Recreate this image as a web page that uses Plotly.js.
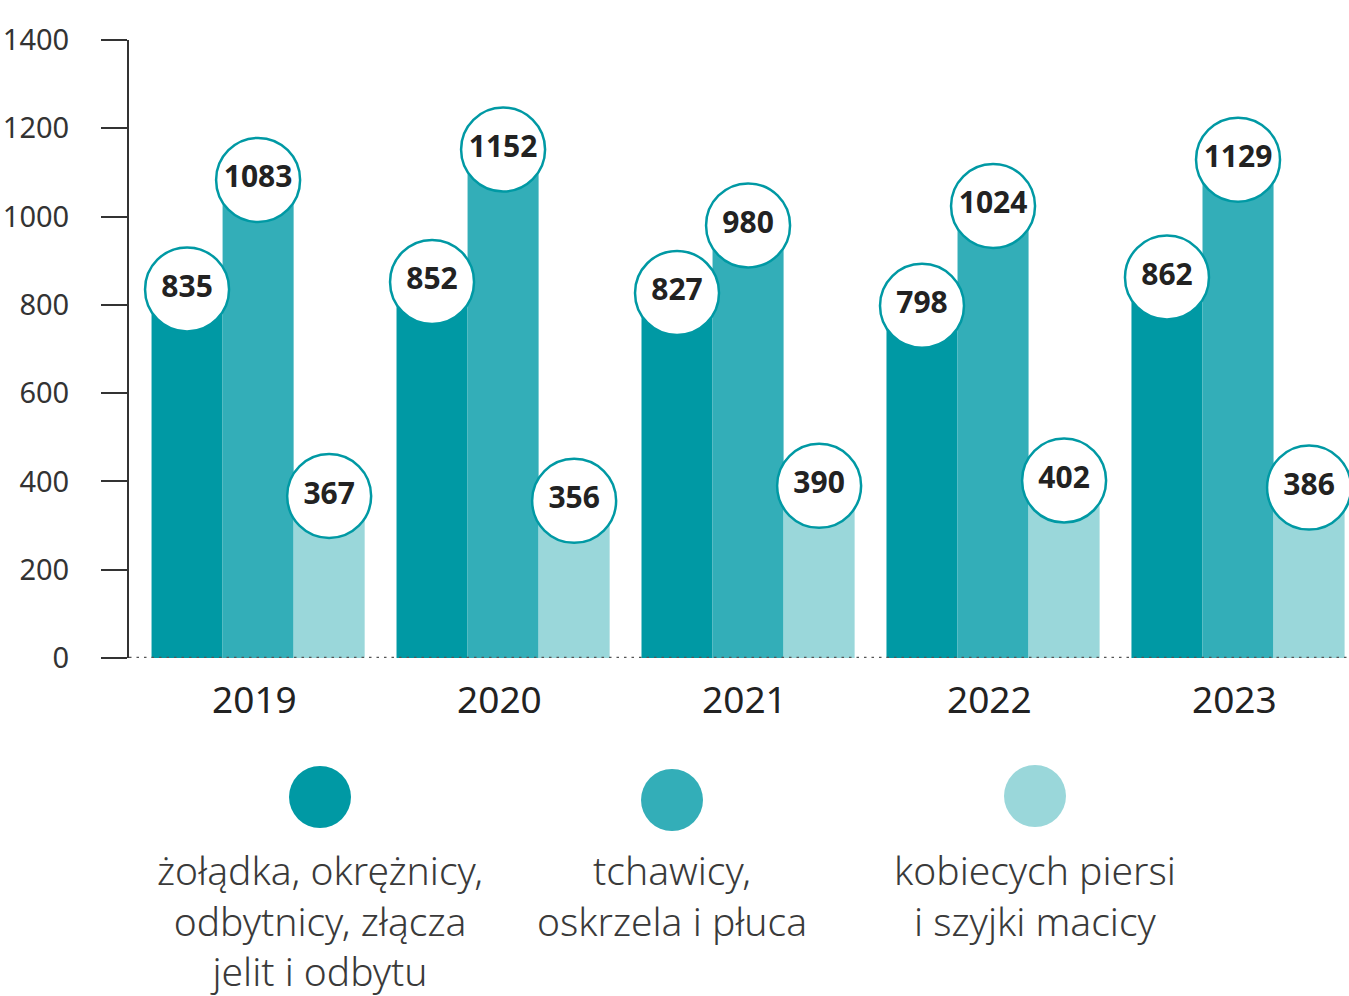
<!DOCTYPE html>
<html>
<head>
<meta charset="utf-8">
<script src="https://cdn.plot.ly/plotly-3.0.1.min.js"></script>
<style>html,body{margin:0;padding:0;background:#fff;}#chart{width:1349px;height:996px;}</style>
</head>
<body>
<div id="chart"></div>
<script>
const years = ['2019', '2020', '2021', '2022', '2023'];
const zoladka = [835, 852, 827, 798, 862];
const tchawicy = [1083, 1152, 980, 1024, 1129];
const piersi = [367, 356, 390, 402, 386];
const seriesNames = ['żołądka, okrężnicy,<br>odbytnicy, złącza<br>jelit i odbytu', 'tchawicy,<br>oskrzela i płuca', 'kobiecych piersi<br>i szyjki macicy'];
const colors = ['#0099A4', '#33AEB8', '#9AD7DA'];
const yTicks = [0, 200, 400, 600, 800, 1000, 1200, 1400];

const series = [zoladka, tchawicy, piersi];
const xIdx = years.map((_, i) => i);
const bargap = 0.13;
const bw = (1 - bargap) / series.length;

const traces = [];
series.forEach((vals, k) => {
  traces.push({
    type: 'bar', x: xIdx, y: vals, name: seriesNames[k].replace(/<br>/g, ' '),
    marker: {color: colors[k], line: {width: 0}},
    hoverinfo: 'skip', showlegend: false
  });
});
series.forEach((vals, k) => {
  traces.push({
    type: 'scatter', mode: 'markers+text',
    x: xIdx.map(i => i + (k - 1) * bw), y: vals,
    text: vals.map(String), textposition: 'middle center',
    textfont: {family: 'Noto Sans, sans-serif', size: 30, color: '#222', weight: 700},
    marker: {size: 84, color: '#fff', line: {color: '#0099A4', width: 2.5}},
    cliponaxis: false, hoverinfo: 'skip', showlegend: false
  });
});

const L = 129, T = 40, W = 1349 - 129, H = 658 - 40;
const px = x => (x - L) / W;
const py = y => (658 - y) / H;

const legendPos = [[320, 797], [672, 800], [1035, 796]];
const shapes = [{
  type: 'line', xref: 'paper', yref: 'y', x0: 0, x1: 1, y0: 0, y1: 0,
  line: {color: '#555', width: 2.5, dash: '2.5px,5px'}, layer: 'above'
}];
const annotations = [];
legendPos.forEach((p, k) => {
  shapes.push({
    type: 'circle', xref: 'paper', yref: 'paper',
    xsizemode: 'pixel', ysizemode: 'pixel',
    xanchor: px(p[0]), yanchor: py(p[1]),
    x0: -31, x1: 31, y0: -31, y1: 31,
    fillcolor: colors[k], line: {width: 0}
  });
  const nLines = seriesNames[k].split('<br>').length;
  annotations.push({
    xref: 'paper', yref: 'paper', x: px(p[0]), y: py(870 + 25 * (nLines - 1)),
    xanchor: 'center', yanchor: 'middle', align: 'center', showarrow: false,
    borderpad: 0,
    text: seriesNames[k],
    font: {family: 'Noto Sans, sans-serif', size: 39, color: '#3a3a3a', weight: 300}
  });
});

const layout = {
  width: 1349, height: 996,
  margin: {l: L, r: 0, t: T, b: 996 - 658, pad: 0},
  paper_bgcolor: '#fff', plot_bgcolor: '#fff',
  barmode: 'group', bargap: bargap, bargroupgap: 0,
  showlegend: false,
  font: {family: 'Noto Sans, sans-serif'},
  xaxis: {
    range: [-0.527, 4.453], tickmode: 'array', tickvals: xIdx.map(i => i - 0.015), ticktext: years,
    showgrid: false, zeroline: false, showline: false, ticks: '',
    tickfont: {size: 37, color: '#222'}, ticklabelstandoff: 17, fixedrange: true
  },
  yaxis: {
    range: [0, 1400], tickmode: 'array', tickvals: yTicks, ticktext: yTicks.map(String),
    showgrid: false, zeroline: false, showline: true, linecolor: '#333', linewidth: 2,
    ticks: 'outside', ticklen: 26, tickwidth: 2, tickcolor: '#333',
    tickfont: {size: 29, color: '#333'}, ticklabelstandoff: 26, fixedrange: true
  },
  shapes: shapes,
  annotations: annotations
};

Plotly.newPlot('chart', traces, layout, {displayModeBar: false, staticPlot: true});
</script>
</body>
</html>
